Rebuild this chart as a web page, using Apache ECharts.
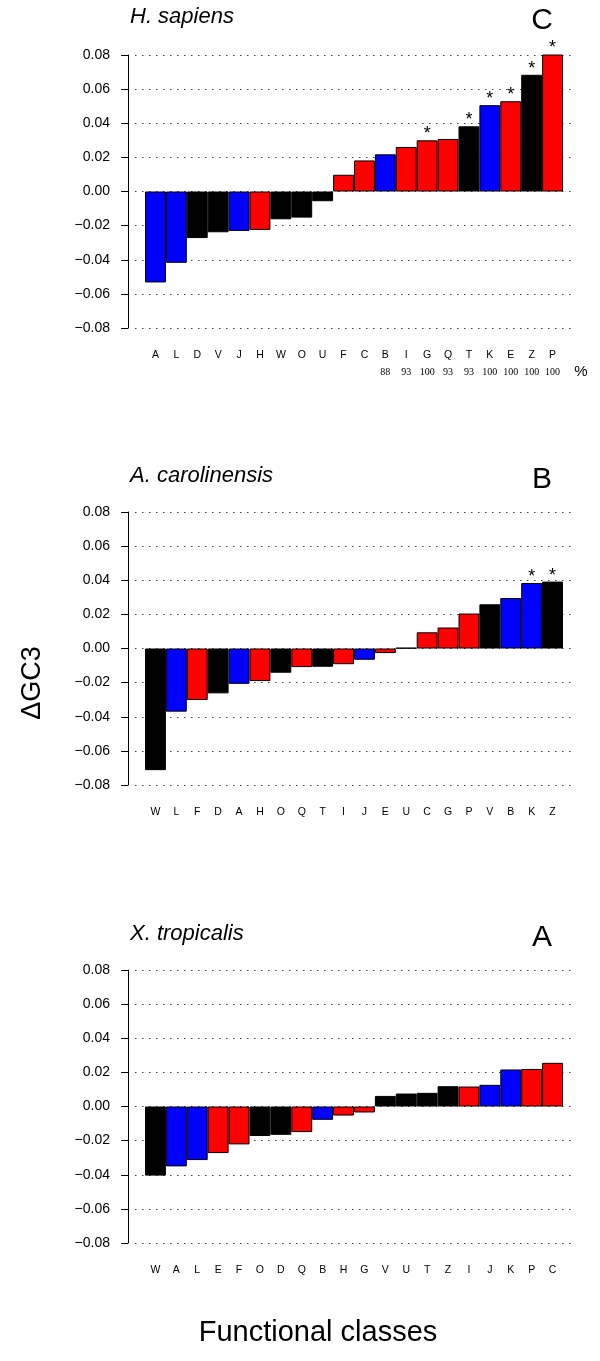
<!DOCTYPE html>
<html>
<head>
<meta charset="utf-8">
<script src="https://cdn.jsdelivr.net/npm/echarts@6/dist/echarts.min.js"></script>
<style>
html,body{margin:0;padding:0;background:#fff;}
#chart{width:600px;height:1361px;}
</style>
</head>
<body>
<div id="chart"></div>
<script>
// ---- data ----
const catsC = ['A','L','D','V','J','H','W','O','U','F','C','B','I','G','Q','T','K','E','Z','P'];
const valsC = [-0.0533,-0.0418,-0.0273,-0.0239,-0.0231,-0.0225,-0.0163,-0.0153,-0.0057,0.0098,0.0182,0.0218,0.0261,0.0300,0.0308,0.0382,0.0506,0.0529,0.0684,0.0816];
const starsC = ['G','T','K','E','Z','P'];
const pctCats = ['B','I','G','Q','T','K','E','Z','P'];
const pctVals = [88,93,100,93,93,100,100,100,100];

const catsB = ['W','L','F','D','A','H','O','Q','T','I','J','E','U','C','G','P','V','B','K','Z'];
const valsB = [-0.0713,-0.0370,-0.0302,-0.0263,-0.0207,-0.0191,-0.0142,-0.0109,-0.0107,-0.0092,-0.0066,-0.0027,0.0004,0.0095,0.0123,0.0205,0.0259,0.0296,0.0384,0.0392];
const starsB = ['K','Z'];

const catsA = ['W','A','L','E','F','O','D','Q','B','H','G','V','U','T','Z','I','J','K','P','C'];
const valsA = [-0.0405,-0.0351,-0.0314,-0.0273,-0.0222,-0.0173,-0.0166,-0.0150,-0.0078,-0.0053,-0.0035,0.0062,0.0076,0.0080,0.0119,0.0117,0.0127,0.0217,0.0220,0.0256];

const yTicks = [-0.08,-0.06,-0.04,-0.02,0.00,0.02,0.04,0.06,0.08];

// COG functional groups
const infoClasses = ['A','B','J','K','L'];
const cellClasses = ['D','O','T','U','V','W','Z'];
const metaClasses = ['C','E','F','G','H','I','P','Q'];

// ---- styles ----
const groupColor = c => infoClasses.includes(c) ? '#0000ff' : (cellClasses.includes(c) ? '#000000' : '#ff0000');
const FONT = '"Liberation Sans", Arial, Helvetica, sans-serif';

const panels = [
  {cats: catsC, vals: valsC, stars: starsC, top: 55, title: 'H. sapiens', letter: 'C', titleY: 18, letterY: 21, pct: true},
  {cats: catsB, vals: valsB, stars: starsB, top: 512, title: 'A. carolinensis', letter: 'B', titleY: 477, letterY: 480, pct: false},
  {cats: catsA, vals: valsA, stars: [], top: 970, title: 'X. tropicalis', letter: 'A', titleY: 935, letterY: 938, pct: false}
];
const H = 273;

const grid = [], xAxis = [], yAxis = [], series = [], graphic = [];
panels.forEach((p) => {
  const bgG = grid.length;
  grid.push({left: 135, right: 25, top: p.top, height: H});
  const fgG = grid.length;
  grid.push({left: 145, right: 37, top: p.top, height: H});

  // background axes: dotted grid + visible y axis
  xAxis.push({gridIndex: bgG, type: 'value', min: 0, max: 1, show: false});
  yAxis.push({
    gridIndex: bgG, type: 'value', min: yTicks[0], max: yTicks[yTicks.length - 1], interval: 0.02,
    offset: 7, position: 'left',
    axisLine: {show: true, onZero: false, lineStyle: {color: '#000', width: 1}},
    axisTick: {show: true, length: 7, inside: false, lineStyle: {color: '#000'}},
    axisLabel: {margin: 18, fontFamily: FONT, fontSize: 14, color: '#000',
      formatter: v => { const s = (Math.abs(v) < 1e-9 ? 0 : v).toFixed(2); return s.replace('-', '\u2212'); }},
    splitLine: {show: true, lineStyle: {color: '#444', width: 1, type: [1.5, 5.5]}}
  });

  // foreground axes: bars
  const fgX = xAxis.length;
  xAxis.push({
    gridIndex: fgG, type: 'category', data: p.cats, position: 'bottom',
    axisLine: {show: false, onZero: false}, axisTick: {show: false},
    axisLabel: {interval: 0, margin: 22, fontFamily: FONT, fontSize: 10.5, color: '#000'},
    splitLine: {show: false}
  });
  if (p.pct) {
    xAxis.push({
      gridIndex: fgG, type: 'category', data: p.cats, position: 'bottom', offset: 17,
      axisLine: {show: false, onZero: false}, axisTick: {show: false},
      axisLabel: {interval: 0, margin: 22, fontFamily: '"Liberation Serif", "Times New Roman", serif', fontSize: 10, color: '#000',
        formatter: c => { const i = pctCats.indexOf(c); return i >= 0 ? String(pctVals[i]) : ''; }},
      splitLine: {show: false}
    });
  }
  const fgY = yAxis.length;
  yAxis.push({gridIndex: fgG, type: 'value', min: yTicks[0], max: yTicks[yTicks.length - 1], interval: 0.02, show: false, splitLine: {show: false}});

  series.push({
    type: 'bar', xAxisIndex: fgX, yAxisIndex: fgY,
    barCategoryGap: '0%',
    silent: true,
    data: p.vals.map((v, i) => {
      const c = p.cats[i];
      const item = {value: v, itemStyle: {color: groupColor(c), borderColor: '#000', borderWidth: 1}};
      if (p.stars.includes(c)) {
        item.label = {show: true, position: 'top', distance: -3, formatter: '*', fontFamily: FONT, fontSize: 18, color: '#000'};
      }
      return item;
    })
  });

  graphic.push({type: 'text', left: 130, top: p.titleY - 12,
    style: {text: p.title, font: 'italic 22px ' + FONT, fill: '#000'}});
  graphic.push({type: 'text', x: 542, y: p.letterY,
    style: {text: p.letter, font: '30px ' + FONT, fill: '#000', textAlign: 'center', textVerticalAlign: 'middle'}});
});

graphic.push({type: 'text', x: 581, y: 372,
  style: {text: '%', font: '15px ' + FONT, fill: '#000', textAlign: 'center', textVerticalAlign: 'middle'}});
graphic.push({type: 'text', x: 33, y: 683, rotation: Math.PI / 2,
  style: {text: '\u0394GC3', font: '27px ' + FONT, fill: '#000', textAlign: 'center', textVerticalAlign: 'middle'}});
graphic.push({type: 'text', x: 318, y: 1333,
  style: {text: 'Functional classes', font: '29px ' + FONT, fill: '#000', textAlign: 'center', textVerticalAlign: 'middle'}});

const chart = echarts.init(document.getElementById('chart'), null, {renderer: 'canvas'});
chart.setOption({animation: false, backgroundColor: '#fff', grid, xAxis, yAxis, series, graphic});
</script>
</body>
</html>
